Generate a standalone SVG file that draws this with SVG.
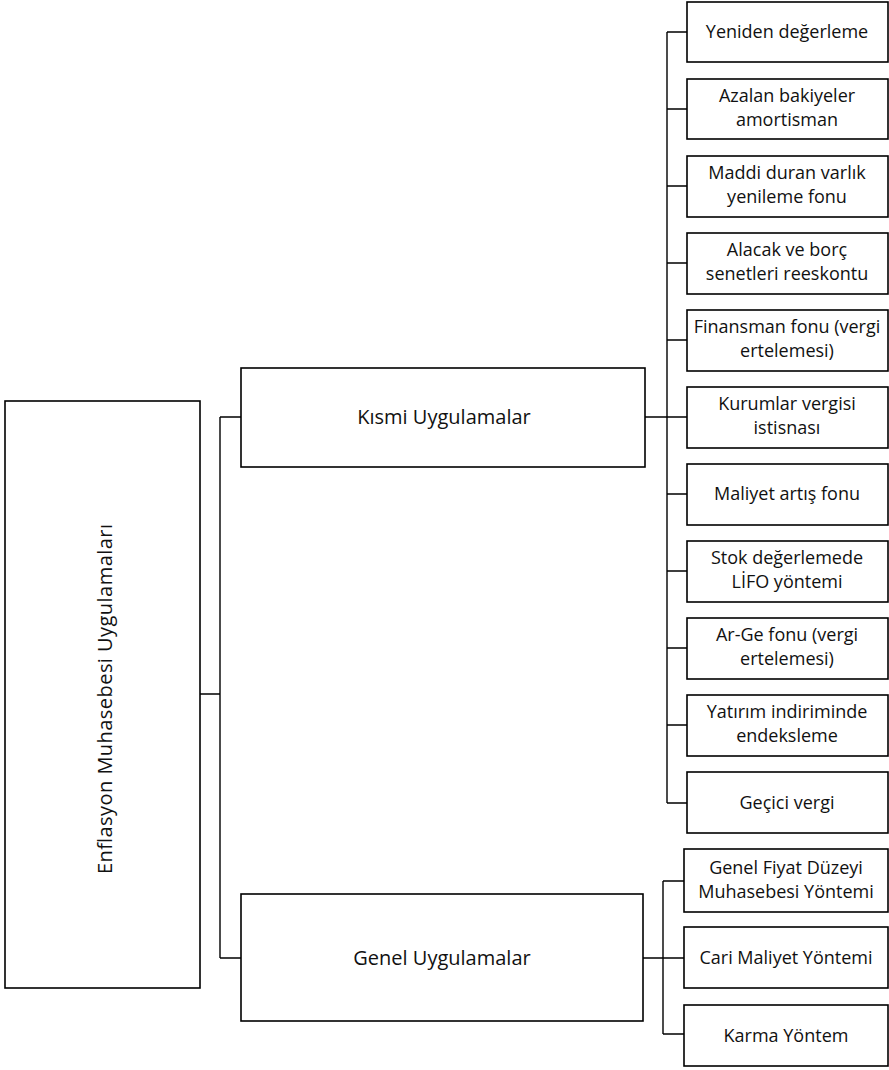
<svg xmlns="http://www.w3.org/2000/svg" width="889" height="1070" viewBox="0 0 889 1070">
<style>
.box{fill:#fff;stroke:#000;stroke-width:1.6}
.c{fill:none;stroke:#000;stroke-width:1.4}
text{font-family:"Open Sans","Liberation Sans",sans-serif;font-size:18px;fill:#111;text-anchor:middle}
.big{font-size:20px}
</style>
<rect width="889" height="1070" fill="#fff"/>
<g id="connectors">
<path class="c" d="M200,694 H220 M220,417 V958 M220,417 H241 M220,958 H241"/>
<path class="c" d="M645,417 H667 M667,32 V803"/>
<path class="c" d="M667,32 H687 M667,109 H687 M667,186 H687 M667,263 H687 M667,340 H687 M667,417 H687 M667,494 H687 M667,571 H687 M667,648 H687 M667,725 H687 M667,803 H687"/>
<path class="c" d="M643,958 H663 M663,881 V1034 M663,881 H684 M663,958 H684 M663,1034 H684"/>
</g>
<g id="root"><rect class="box" x="5" y="401" width="195" height="587"/><text class="big" transform="translate(112,699) rotate(-90)" textLength="350" lengthAdjust="spacing">Enflasyon Muhasebesi Uygulamaları</text></g>
<g id="kismi"><rect class="box" x="241" y="368" width="404" height="99"/><text class="big" x="444" y="424">Kısmi Uygulamalar</text></g>
<g id="genel"><rect class="box" x="241" y="894" width="402" height="127"/><text class="big" x="442" y="965">Genel Uygulamalar</text></g>
<g id="k1"><rect class="box" x="687" y="2" width="201" height="60"/><text x="787" y="38">Yeniden değerleme</text></g>
<g id="k2"><rect class="box" x="687" y="79" width="201" height="60"/><text x="787" y="102">Azalan bakiyeler</text><text x="787" y="126">amortisman</text></g>
<g id="k3"><rect class="box" x="687" y="156" width="201" height="61"/><text x="787" y="179">Maddi duran varlık</text><text x="787" y="203">yenileme fonu</text></g>
<g id="k4"><rect class="box" x="687" y="233" width="201" height="61"/><text x="787" y="256">Alacak ve borç</text><text x="787" y="280">senetleri reeskontu</text></g>
<g id="k5"><rect class="box" x="687" y="310" width="201" height="61"/><text x="787" y="333">Finansman fonu (vergi</text><text x="787" y="357">ertelemesi)</text></g>
<g id="k6"><rect class="box" x="687" y="387" width="201" height="61"/><text x="787" y="410">Kurumlar vergisi</text><text x="787" y="434">istisnası</text></g>
<g id="k7"><rect class="box" x="687" y="464" width="201" height="61"/><text x="787" y="500">Maliyet artış fonu</text></g>
<g id="k8"><rect class="box" x="687" y="541" width="201" height="61"/><text x="787" y="564">Stok değerlemede</text><text x="787" y="588">LİFO yöntemi</text></g>
<g id="k9"><rect class="box" x="687" y="618" width="201" height="61"/><text x="787" y="641">Ar-Ge fonu (vergi</text><text x="787" y="665">ertelemesi)</text></g>
<g id="k10"><rect class="box" x="687" y="695" width="201" height="61"/><text x="787" y="718">Yatırım indiriminde</text><text x="787" y="742">endeksleme</text></g>
<g id="k11"><rect class="box" x="687" y="772" width="201" height="61"/><text x="787" y="809">Geçici vergi</text></g>
<g id="g1"><rect class="box" x="684" y="849" width="204" height="63"/><text x="786" y="874">Genel Fiyat Düzeyi</text><text x="786" y="898">Muhasebesi Yöntemi</text></g>
<g id="g2"><rect class="box" x="684" y="927" width="204" height="61"/><text x="786" y="964">Cari Maliyet Yöntemi</text></g>
<g id="g3"><rect class="box" x="684" y="1005" width="204" height="61"/><text x="786" y="1042">Karma Yöntem</text></g>
</svg>
